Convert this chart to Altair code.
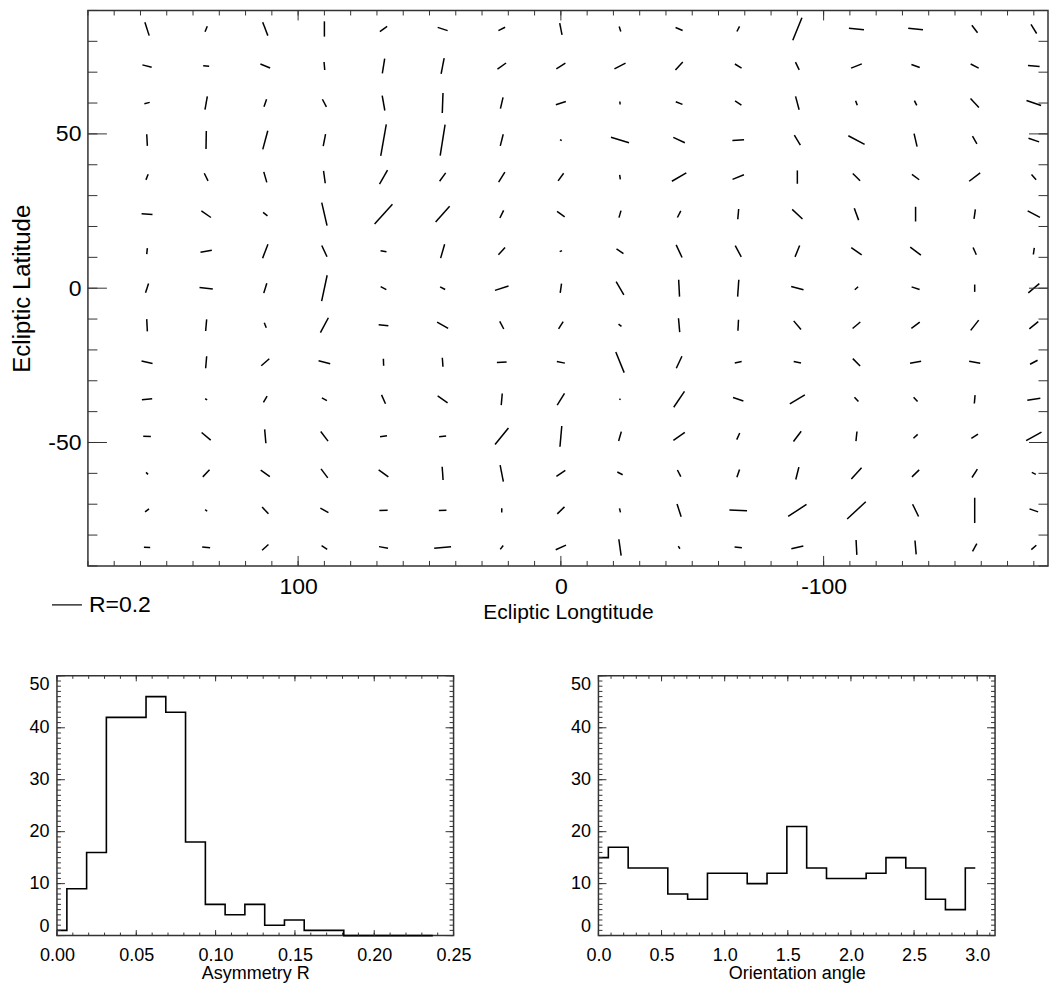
import altair as alt
import pandas as pd

FONT = "Liberation Sans"
FRAME = "#333333"

# ---------------- vector map data ----------------
LATS = [84, 72, 60, 48, 36, 24, 12, 0, -12, -24, -36, -48, -60, -72, -84]
LONS = [157.5, 135, 112.5, 90, 67.5, 45, 22.5, 0, -22.5, -45, -67.5, -90, -112.5, -135, -157.5, -180]

# asymmetry R of each cell (rows = LATS, columns = LONS)
R_GRID = [
    [.093, .040, .095, .102, .060, .070, .050, .081, .035, .051, .038, .163, .101, .099, .063, .071],
    [.064, .040, .070, .053, .101, .107, .070, .071, .083, .073, .052, .057, .077, .059, .060, .078],
    [.037, .090, .053, .057, .101, .133, .077, .070, .020, .048, .051, .092, .033, .035, .082, .103],
    [.078, .120, .129, .081, .213, .209, .080, .013, .126, .085, .078, .078, .123, .089, .059, .075],
    [.040, .057, .073, .083, .107, .069, .079, .063, .031, .111, .082, .089, .069, .060, .092, .047],
    [.073, .078, .037, .157, .178, .140, .057, .062, .049, .050, .069, .094, .085, .098, .065, .093],
    [.040, .077, .100, .083, .040, .097, .066, .017, .056, .093, .085, .082, .085, .089, .053, .045],
    [.065, .089, .069, .177, .043, .038, .095, .063, .103, .113, .113, .085, .030, .056, .049, .096],
    [.082, .078, .036, .113, .065, .085, .057, .058, .025, .093, .073, .076, .067, .070, .087, .077],
    [.075, .080, .071, .080, .047, .060, .065, .055, .149, .089, .047, .050, .069, .075, .075, .057],
    [.069, .015, .049, .038, .065, .081, .078, .092, .010, .128, .073, .117, .039, .039, .056, .088],
    [.051, .079, .093, .081, .047, .047, .142, .139, .065, .093, .049, .086, .065, .039, .053, .117],
    [.019, .065, .075, .075, .080, .089, .113, .072, .040, .050, .054, .085, .102, .067, .066, .030],
    [.033, .017, .061, .062, .055, .051, .027, .067, .027, .089, .118, .146, .170, .091, .169, .061],
    [.042, .053, .057, .045, .061, .113, .033, .075, .110, .021, .049, .082, .100, .093, .059, .044],
]

# orientation of each segment as drawn, degrees counter-clockwise from horizontal
ANGLE_GRID = [
    [108, 68, 111, 90, 36, 162, 27, 101, 108, 157, 62, 68, 174, 174, 127, 122],
    [166, 174, 158, 95, 81, 79, 35, 32, 27, 48, 149, 116, 22, 160, 153, 175],
    [14, 80, 71, 118, 100, 88, 77, 18, 95, 158, 146, 105, 110, 117, 133, 161],
    [93, 89, 75, 79, 80, 81, 76, 146, 163, 155, 3, 121, 152, 103, 120, 161],
    [68, 116, 106, 98, 60, 54, 58, 54, 98, 30, 22, 90, 135, 144, 37, 131],
    [175, 145, 142, 103, 48, 48, 64, 145, 74, 63, 85, 137, 110, 90, 82, 152],
    [84, 10, 69, 115, 170, 74, 48, 23, 146, 115, 118, 68, 145, 143, 114, 82],
    [72, 174, 73, 78, 152, 152, 18, 82, 120, 93, 86, 165, 42, 162, 90, 40],
    [93, 85, 112, 62, 174, 150, 118, 58, 142, 95, 87, 130, 40, 37, 52, 39],
    [168, 85, 41, 166, 92, 94, 4, 168, 112, 65, 11, 167, 135, 10, 170, 28],
    [6, 153, 60, 152, 114, 145, 85, 58, 150, 56, 161, 31, 133, 133, 85, 9],
    [178, 140, 95, 127, 8, 5, 51, 85, 74, 35, 66, 53, 84, 43, 33, 29],
    [135, 46, 144, 127, 144, 94, 101, 34, 153, 117, 71, 76, 48, 44, 57, 153],
    [37, 140, 134, 150, 2, 2, 90, 44, 104, 108, 178, 33, 43, 116, 90, 161],
    [177, 175, 42, 147, 170, 5, 53, 24, 98, 122, 175, 13, 93, 95, 61, 41],
]

LEGEND_R = [0.2]
LEGEND_LABEL = ["R=0.2"]

# ---------------- histogram data ----------------
R_CENTERS = [0.0, 0.0125, 0.0249, 0.0374, 0.0499, 0.0624, 0.0748, 0.0873, 0.0998, 0.1122,
             0.1247, 0.1372, 0.1496, 0.1621, 0.1746, 0.1870, 0.1995, 0.2120, 0.2245, 0.2369]
R_COUNTS = [1, 9, 16, 42, 42, 46, 43, 18, 6, 4, 6, 2, 3, 1, 1, 0, 0, 0, 0, 0]

ANG_CENTERS = [0.0, 0.157, 0.314, 0.471, 0.628, 0.785, 0.942, 1.100, 1.257, 1.414,
               1.571, 1.728, 1.885, 2.042, 2.199, 2.356, 2.513, 2.670, 2.827, 2.985]
ANG_COUNTS = [15, 17, 13, 13, 8, 7, 12, 12, 10, 12, 21, 13, 11, 11, 12, 15, 13, 7, 5, 13]

# tick labels
LON_LABELS = [100, 0, -100]
LAT_LABELS = [50, 0, -50]
COUNT_LABELS = [0, 10, 20, 30, 40, 50]
R_LABELS = [0.0, 0.05, 0.10, 0.15, 0.20, 0.25]
ANG_LABELS = [0.0, 0.5, 1.0, 1.5, 2.0, 2.5, 3.0]

# ---------------- style constants ----------------
PX_PER_R = 150          # segment length in pixels per unit of R (R=0.2 -> 30 px)
W_TOP, H_TOP = 961, 556
W_H, H_H = 397, 260
HFONT = 18


# ---------------- helpers ----------------
def x_ticks(vals, scale, axis, W, H, L):
    df = pd.DataFrame({"v": vals})
    base = alt.Chart(df).mark_rule(color=FRAME, strokeWidth=1)
    xe = alt.X("v:Q", scale=scale, axis=axis)
    return [
        base.encode(x=xe, y=alt.value(H), y2=alt.value(H - L)),
        base.encode(x=xe, y=alt.value(0), y2=alt.value(L)),
    ]


def y_ticks(vals, scale, axis, W, H, L):
    df = pd.DataFrame({"v": vals})
    base = alt.Chart(df).mark_rule(color=FRAME, strokeWidth=1)
    ye = alt.Y("v:Q", scale=scale, axis=axis)
    return [
        base.encode(y=ye, x=alt.value(0), x2=alt.value(L)),
        base.encode(y=ye, x=alt.value(W), x2=alt.value(W - L)),
    ]


# ---------------- top vector map ----------------
rows = []
for i, lat in enumerate(LATS):
    for j, lon in enumerate(LONS):
        r = R_GRID[i][j]
        a = ANGLE_GRID[i][j]
        rows.append({"lon": lon, "lat": lat, "R": r, "theta": a,
                     "size": (r * PX_PER_R) ** 2, "rot": (180 - a) % 180})
vec_df = pd.DataFrame(rows)

xs_top = alt.Scale(domain=[180, -185.4], nice=False, zero=False)
ys_top = alt.Scale(domain=[-90, 90], nice=False, zero=False)

x_axis_top = alt.Axis(
    values=LON_LABELS, labelExpr="'' + datum.value", title="Ecliptic Longtitude",
    labelFontSize=23, titleFontSize=21, labelPadding=10, titlePadding=3,
    labelFlush=False, tickSize=0, ticks=False, domain=False, grid=False)
y_axis_top = alt.Axis(
    values=LAT_LABELS, labelExpr="'' + datum.value", title="Ecliptic Latitude",
    labelFontSize=23, titleFontSize=24, labelPadding=7, titlePadding=13,
    tickSize=0, ticks=False, domain=False, grid=False)

vectors = alt.Chart(vec_df).mark_point(
    shape="stroke", filled=False, color="black", strokeWidth=1.5, opacity=1
).encode(
    x=alt.X("lon:Q", scale=xs_top, axis=x_axis_top),
    y=alt.Y("lat:Q", scale=ys_top, axis=y_axis_top),
    size=alt.Size("size:Q", scale=None, legend=None),
    angle=alt.Angle("rot:Q", scale=None),
)

top_ticks = (
    x_ticks(list(range(-180, 181, 10)), xs_top, x_axis_top, W_TOP, H_TOP, 5)
    + x_ticks(LON_LABELS, xs_top, x_axis_top, W_TOP, H_TOP, 10)
    + y_ticks(list(range(-90, 91, 10)), ys_top, y_axis_top, W_TOP, H_TOP, 9.5)
    + y_ticks(LAT_LABELS, ys_top, y_axis_top, W_TOP, H_TOP, 19)
)

leg_df = pd.DataFrame({"R": LEGEND_R, "label": LEGEND_LABEL})
leg_df["size"] = (leg_df["R"] * PX_PER_R) ** 2
legend_line = alt.Chart(leg_df).mark_point(
    shape="stroke", filled=False, color="black", strokeWidth=1.2, opacity=1
).encode(x=alt.value(-21), y=alt.value(H_TOP + 39),
         size=alt.Size("size:Q", scale=None, legend=None))
legend_text = alt.Chart(leg_df).mark_text(
    align="left", baseline="middle", fontSize=23, font=FONT, color="black"
).encode(x=alt.value(1), y=alt.value(H_TOP + 39), text="label:N")

top = alt.layer(vectors, *top_ticks, legend_line, legend_text).properties(
    width=W_TOP, height=H_TOP)

# invisible spacer that lets the map sit to the right of the histogram column
spacer = alt.Chart(pd.DataFrame({"d": [0]})).mark_rule(opacity=0, strokeWidth=0).encode(
    x=alt.value(0), x2=alt.value(0), y=alt.value(0), y2=alt.value(0)
).properties(width=1, height=1, view=alt.ViewBackground(stroke="transparent"))

top_row = alt.hconcat(spacer, top, spacing=-49)


# ---------------- histograms ----------------
def histogram(centers, counts, xdomain, xlabels, xfmt, xtitle, xminor, ytitle, ytpad):
    df = pd.DataFrame({"c": centers, "n": counts})
    xs = alt.Scale(domain=xdomain, nice=False, zero=False)
    ys = alt.Scale(domain=[0, 50], nice=False, zero=False)
    xa = alt.Axis(
        values=xlabels, format=xfmt, title=xtitle, labelFontSize=HFONT,
        titleFontSize=HFONT, labelPadding=11, titlePadding=0, labelFlush=False,
        tickSize=0, ticks=False, domain=False, grid=False)
    ya = alt.Axis(
        values=COUNT_LABELS, title=ytitle, labelFontSize=HFONT, titleFontSize=HFONT,
        labelPadding=8, titlePadding=ytpad, labelFlush=True,
        tickSize=0, ticks=False, domain=False, grid=False)
    line = alt.Chart(df).mark_line(
        interpolate="step", color="black", strokeWidth=1.6
    ).encode(
        x=alt.X("c:Q", scale=xs, axis=xa),
        y=alt.Y("n:Q", scale=ys, axis=ya),
    )
    ticks = (
        x_ticks(xminor, xs, xa, W_H, H_H, 3)
        + x_ticks(xlabels, xs, xa, W_H, H_H, 5.5)
        + y_ticks(list(range(0, 51)), ys, ya, W_H, H_H, 4)
        + y_ticks(COUNT_LABELS, ys, ya, W_H, H_H, 8)
    )
    return alt.layer(line, *ticks).properties(width=W_H, height=H_H)


r_minor = [round(0.01 * k, 2) for k in range(0, 26)]
a_minor = [round(0.1 * k, 1) for k in range(0, 32)]

# the blank y title on the left histogram only reserves room at the page edge
left = histogram(R_CENTERS, R_COUNTS, [0, 0.25], R_LABELS, ".2f", "Asymmetry R",
                 r_minor, " ", 2)
right = histogram(ANG_CENTERS, ANG_COUNTS, [0, 3.1416], ANG_LABELS, ".1f",
                  "Orientation angle", a_minor, "", 0)

chart = alt.vconcat(
    top_row, alt.hconcat(left, right, spacing=97), spacing=50
).properties(padding=0).configure(font=FONT).configure_view(
    stroke=FRAME, strokeWidth=1.5
).configure_axis(
    labelColor="black", titleColor="black", titleFontWeight="normal", labelFont=FONT,
    titleFont=FONT
)

chart.save("out.html", embed_options={"renderer": "svg", "actions": False})
